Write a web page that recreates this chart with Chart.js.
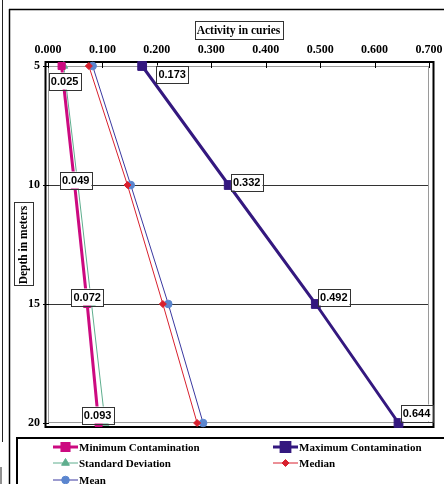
<!DOCTYPE html>
<html>
<head>
<meta charset="utf-8">
<script src="https://cdn.jsdelivr.net/npm/chart.js@4.4.1/dist/chart.umd.min.js"></script>
<style>
  html, body { margin: 0; padding: 0; background: #fff; }
  canvas { display: block; }
</style>
</head>
<body>
<canvas id="depthChart" width="444" height="484"></canvas>
<script>
// depth profile of activity (curies) per statistic
const depths = [5, 10, 15, 20];
const minContamination = [0.025, 0.049, 0.072, 0.093];
const maxContamination = [0.173, 0.332, 0.492, 0.644];
const stdDeviation = [0.029, 0.055, 0.080, 0.105];
const medianValues = [0.075, 0.146, 0.211, 0.274];
const meanValues = [0.082, 0.152, 0.221, 0.285];
const seriesNames = ['Minimum Contamination', 'Maximum Contamination', 'Standard Deviation', 'Median', 'Mean'];

const SERIF = '"Liberation Serif", "Times New Roman", serif';
const SANS = '"Liberation Sans", Arial, sans-serif';

function toPoints(values) {
  return values.map((v, i) => ({ x: v, y: depths[i] }));
}

const series = [
  { label: seriesNames[0], data: minContamination, color: '#cc0a80', point: '#cc0a80', width: 3, style: 'rect', r: 5 },
  { label: seriesNames[1], data: maxContamination, color: '#34187f', point: '#34187f', width: 3, style: 'rect', r: 6.2 },
  { label: seriesNames[2], data: stdDeviation, color: '#5fae8e', point: '#5fae8e', width: 1, style: 'triangle', r: 4.5 },
  { label: seriesNames[3], data: medianValues, color: '#d8202e', point: '#d8202e', width: 1, style: 'rectRot', r: 3.5 },
  { label: seriesNames[4], data: meanValues, color: '#3a38a0', point: '#5b86cf', width: 1, style: 'circle', r: 3.8 }
];

// label box offsets from the point (dx, dy) for the min / max series
const labelOffsets = {
  0: [[3, 15], [1, -5], [0, -7], [-1, -8]],
  1: [[30, 8], [18, -3], [18, -7], [18, -10]]
};

function boxText(ctx, text, cx, cy, font, padX, h) {
  ctx.font = font;
  const w = ctx.measureText(text).width + padX * 2;
  ctx.fillStyle = '#fff';
  ctx.fillRect(cx - w / 2, cy - h / 2, w, h);
  ctx.strokeStyle = '#333';
  ctx.lineWidth = 1;
  ctx.strokeRect(Math.round(cx - w / 2) + 0.5, Math.round(cy - h / 2) + 0.5, Math.round(w), Math.round(h));
  ctx.fillStyle = '#000';
  ctx.textAlign = 'center';
  ctx.textBaseline = 'middle';
  ctx.fillText(text, cx, cy + 1);
}

function line(ctx, x1, y1, x2, y2, color, w) {
  ctx.beginPath();
  ctx.strokeStyle = color;
  ctx.lineWidth = w;
  ctx.moveTo(x1, y1);
  ctx.lineTo(x2, y2);
  ctx.stroke();
}

const framePlugin = {
  id: 'frames',
  beforeDatasetsDraw(chart) {
    const { ctx, chartArea: a, scales } = chart;
    ctx.save();
    // outer plot frame and inner axis frame
    ctx.strokeStyle = '#000';
    ctx.lineWidth = 2;
    ctx.strokeRect(a.left - 2.5, a.top - 4, a.right - a.left + 7, a.bottom - a.top + 8);
    ctx.strokeStyle = '#9a9a9a';
    ctx.lineWidth = 1;
    ctx.strokeRect(a.left + 0.5, a.top + 0.5, a.right - a.left - 1, a.bottom - a.top - 1);
    // tick marks
    scales.x.ticks.forEach(t => {
      const x = Math.round(scales.x.getPixelForValue(t.value)) + 0.5;
      line(ctx, x, a.top - 4, x, a.top + 2, '#000', 1);
    });
    scales.y.ticks.forEach(t => {
      const y = Math.round(scales.y.getPixelForValue(t.value)) + 0.5;
      line(ctx, a.left - 5, y, a.left + 1, y, '#000', 1);
    });
    ctx.restore();
  },
  afterDatasetsDraw(chart) {
    const ctx = chart.ctx;
    ctx.save();
    Object.keys(labelOffsets).forEach(di => {
      const meta = chart.getDatasetMeta(+di);
      const values = series[di].data;
      meta.data.forEach((pt, i) => {
        const [dx, dy] = labelOffsets[di][i];
        boxText(ctx, values[i].toFixed(3), pt.x + dx, pt.y + dy, 'bold 11px ' + SANS, 2, 17);
      });
    });
    ctx.restore();
  },
  afterDraw(chart) {
    const { ctx, chartArea: a } = chart;
    ctx.save();
    // window edges
    line(ctx, 2.5, 0, 2.5, 442, '#222', 1);
    line(ctx, 1, 467, 1, 484, '#222', 1);
    line(ctx, 9.5, 9, 9.5, 484, '#000', 1.5);
    line(ctx, 9, 9.5, 444, 9.5, '#000', 1.5);
    // axis titles
    boxText(ctx, 'Activity in curies', (a.left + a.right) / 2, 30, 'bold 11.5px ' + SERIF, 2, 18);
    ctx.save();
    ctx.translate(23, 245);
    ctx.rotate(-Math.PI / 2);
    boxText(ctx, 'Depth in meters', 0, 0, 'bold 11.5px ' + SERIF, 2, 19);
    ctx.restore();
    // legend
    ctx.strokeStyle = '#000';
    ctx.lineWidth = 2;
    ctx.strokeRect(17, 438, 430, 50);
    const slots = [[53, 447], [273, 447], [53, 463], [273, 463], [53, 480]];
    series.forEach((s, i) => {
      const [x, y] = slots[i];
      line(ctx, x, y, x + 25, y, s.color, s.width);
      ctx.fillStyle = s.point;
      ctx.strokeStyle = s.point;
      Chart.helpers.drawPoint(ctx, { pointStyle: s.style, radius: s.r, rotation: 0, borderWidth: 1 }, x + 12.5, y);
      ctx.fillStyle = '#000';
      ctx.font = 'bold 11px ' + SERIF;
      ctx.textAlign = 'left';
      ctx.textBaseline = 'middle';
      ctx.fillText(s.label, x + 26, y + 1);
    });
    ctx.restore();
  }
};

new Chart(document.getElementById('depthChart'), {
  type: 'line',
  data: {
    datasets: series.map(s => ({
      label: s.label,
      data: toPoints(s.data),
      borderColor: s.color,
      borderWidth: s.width,
      backgroundColor: s.point,
      pointBackgroundColor: s.point,
      pointBorderColor: s.point,
      pointBorderWidth: 1,
      pointStyle: s.style,
      pointRadius: s.r,
      tension: 0,
      clip: false
    }))
  },
  options: {
    responsive: false,
    animation: false,
    layout: { padding: { left: 0, top: 0, right: 15, bottom: 61 } },
    plugins: { legend: { display: false }, tooltip: { enabled: false } },
    scales: {
      x: {
        type: 'linear',
        position: 'top',
        min: 0,
        max: 0.7,
        afterFit: s => { s.height = 66; s.paddingLeft = 0; s.paddingRight = 0; },
        grid: { display: false, drawTicks: false },
        border: { display: false },
        ticks: {
          stepSize: 0.1,
          padding: 9,
          color: '#000',
          font: { family: SERIF, size: 12, weight: 'bold' },
          callback: v => Number(v).toFixed(3)
        }
      },
      y: {
        type: 'linear',
        reverse: true,
        min: 5,
        max: 20,
        afterFit: s => { s.width = 48; s.paddingTop = 0; s.paddingBottom = 0; },
        grid: {
          drawTicks: false,
          color: c => (c.tick && (c.tick.value === 10 || c.tick.value === 15)) ? '#333' : 'rgba(0,0,0,0)'
        },
        border: { display: false },
        ticks: {
          stepSize: 5,
          padding: 8,
          color: '#000',
          font: { family: SERIF, size: 12, weight: 'bold' }
        }
      }
    }
  },
  plugins: [framePlugin]
});
</script>
</body>
</html>
